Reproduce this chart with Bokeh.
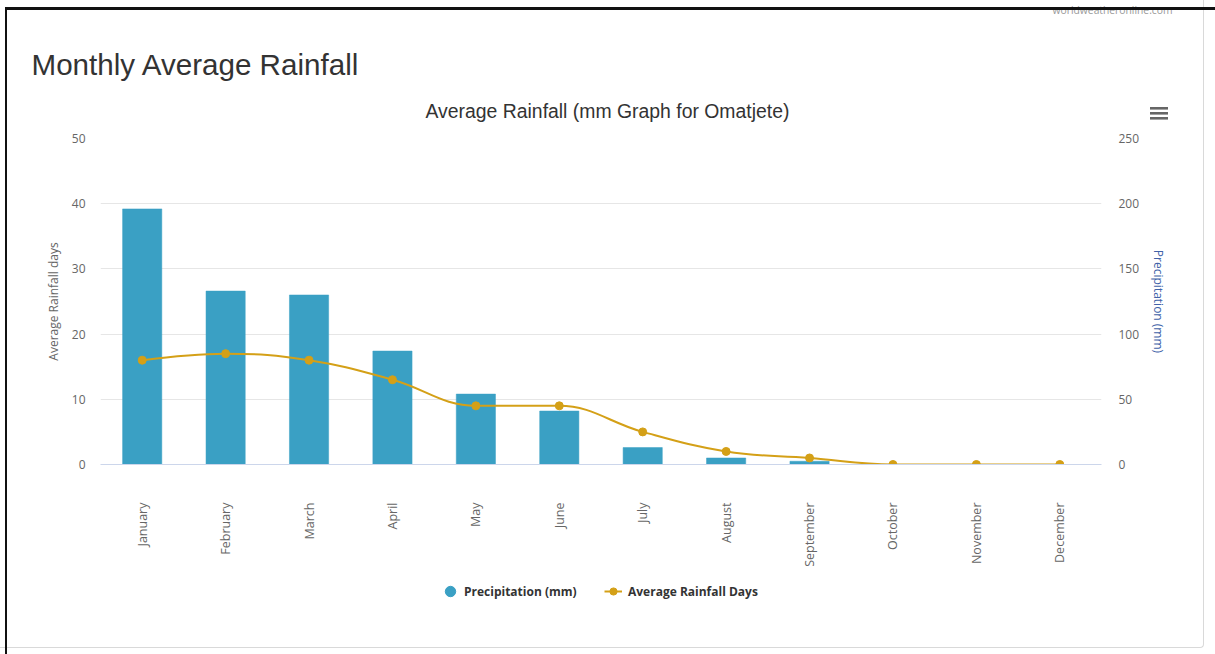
import numpy as np
from bokeh.plotting import figure
from bokeh.layouts import column
from bokeh.models import (Range1d, LinearAxis, FixedTicker, Title, InlineStyleSheet,
                          Legend, LegendItem, ColumnDataSource, Grid)
from bokeh.embed import file_html
from bokeh.resources import INLINE

# ---------------- data ----------------
months = ["January", "February", "March", "April", "May", "June", "July",
          "August", "September", "October", "November", "December"]
precip_mm = [196, 133, 130, 87, 54, 41, 13, 5, 2.5, 0, 0, 0]
rain_days = [16, 17, 16, 13, 9, 9, 5, 2, 1, 0, 0, 0]
days_ticks = [0, 10, 20, 30, 40, 50]
precip_ticks = [0, 50, 100, 150, 200, 250]

page_title = "Monthly Average Rainfall"
chart_title = "Average Rainfall (mm Graph for Omatjete)"
watermark = "worldweatheronline.com"
legend_labels = ["Precipitation (mm)", "Average Rainfall Days"]

# ---------------- layout constants (page px) ----------------
W, H = 1215, 654
HEAD_H = 20                            # thin strip holding the watermark
FL, FR, FT, FB = 100, 1101, 138, 464   # chart frame edges on the page
LEG_TOP = 572                          # legend strip starts here
BAR = "#3aa0c4"
LINE = "#d4a017"
FONT = "Open Sans"

css = """
:host::before {
  content: ""; position: absolute; left: 4.5px; top: 6.5px; width: 1211px; height: 648px;
  border-top: 3px solid #111; border-left: 2.7px solid #111;
  pointer-events: none; z-index: 20;
}
:host::after {
  content: ""; position: absolute; left: 0; top: 0; width: 1204px; height: 648px;
  box-sizing: border-box; border-right: 1px solid #d9d9d9; border-bottom: 1px solid #d9d9d9;
  border-bottom-right-radius: 4px; pointer-events: none; z-index: 19;
  background:
    linear-gradient(#666, #666) 1150px 107px / 18px 2.6px no-repeat,
    linear-gradient(#666, #666) 1150px 112px / 18px 2.6px no-repeat,
    linear-gradient(#666, #666) 1150px 117px / 18px 2.6px no-repeat;
}
"""


def blank_figure(height, top_border=0):
    f = figure(width=W, height=height, output_backend="svg", toolbar_location=None,
               x_range=Range1d(0, W), y_range=Range1d(0, height),
               x_axis_type=None, y_axis_type=None,
               min_border_left=0, min_border_right=0,
               min_border_top=top_border, min_border_bottom=0)
    f.title = None
    f.outline_line_color = None
    f.background_fill_color = "white"
    f.border_fill_color = "white"
    f.xgrid.visible = False
    f.ygrid.visible = False
    return f


# ---------------- watermark strip ----------------
head = blank_figure(HEAD_H, top_border=15)
head.add_layout(Title(text=watermark, align="right", offset=-71, standoff=0,
                      text_font=FONT, text_font_size="10.3px",
                      text_font_style="normal", text_color="#999999"), "above")

# ---------------- main chart ----------------
idx = list(range(len(months)))

p = figure(frame_width=FR - FL, frame_height=FB - FT,
           output_backend="svg", toolbar_location=None,
           x_range=Range1d(-0.5, len(months) - 0.5),
           y_range=Range1d(days_ticks[0], days_ticks[-1]),
           x_axis_type=None, y_axis_type=None,
           min_border_left=FL, min_border_right=W - FR,
           min_border_top=FT - HEAD_H, min_border_bottom=LEG_TOP - FB)
p.title = None
p.extra_y_ranges = {"precip": Range1d(precip_ticks[0], precip_ticks[-1])}
p.outline_line_color = None
p.background_fill_color = "white"
p.border_fill_color = "white"

p.add_layout(Grid(dimension=1, ticker=FixedTicker(ticks=days_ticks),
                  grid_line_color="#e6e6e6", grid_line_width=1))

xax = LinearAxis(ticker=FixedTicker(ticks=idx),
                 major_label_overrides={i: m for i, m in zip(idx, months)},
                 major_label_orientation=np.pi / 2,
                 axis_line_color="#ccd6eb", axis_line_width=1,
                 major_tick_line_color=None, minor_tick_line_color=None,
                 major_tick_in=0, major_tick_out=0,
                 major_label_standoff=38,
                 major_label_text_font=FONT, major_label_text_font_size="12.5px",
                 major_label_text_color="#666666")
p.add_layout(xax, "below")

lax = LinearAxis(ticker=FixedTicker(ticks=days_ticks),
                 axis_label="Average Rainfall days",
                 axis_line_color=None, major_tick_line_color=None, minor_tick_line_color=None,
                 major_tick_in=0, major_tick_out=0, major_label_standoff=15,
                 major_label_text_font=FONT, major_label_text_font_size="12px",
                 major_label_text_color="#666666",
                 axis_label_text_font=FONT, axis_label_text_font_size="12px",
                 axis_label_text_font_style="normal", axis_label_text_color="#666666",
                 axis_label_standoff=7)
p.add_layout(lax, "left")

rax = LinearAxis(y_range_name="precip", ticker=FixedTicker(ticks=precip_ticks),
                 axis_label="Precipitation (mm)",
                 axis_line_color=None, major_tick_line_color=None, minor_tick_line_color=None,
                 major_tick_in=0, major_tick_out=0, major_label_standoff=17,
                 major_label_text_font=FONT, major_label_text_font_size="12px",
                 major_label_text_color="#666666",
                 axis_label_text_font=FONT, axis_label_text_font_size="12px",
                 axis_label_text_font_style="normal", axis_label_text_color="#4062a8",
                 axis_label_standoff=8)
p.add_layout(rax, "right")

# titles above the chart frame (first added = nearest the frame)
p.add_layout(Title(text=chart_title, align="left", offset=325, standoff=34,
                   text_font="Liberation Sans", text_font_size="19.4px",
                   text_font_style="normal", text_color="#333333"), "above")
p.add_layout(Title(text=page_title, align="left", offset=-69, standoff=0,
                   text_font="Liberation Sans", text_font_size="29.6px",
                   text_font_style="normal", text_color="#333333"), "above")

p.vbar(x=idx, top=precip_mm, width=0.47, bottom=0, y_range_name="precip",
       fill_color=BAR, line_color=BAR, line_width=0.5)


def spline_controls(xs, ys, smoothing=1.5):
    """Highcharts-style spline control points computed from the data points."""
    n = len(xs)
    ctrl = [None] * n
    d = smoothing + 1
    for i in range(1, n - 1):
        x, y = xs[i], ys[i]
        lx, ly = xs[i - 1], ys[i - 1]
        nx, ny = xs[i + 1], ys[i + 1]
        lcx = (smoothing * x + lx) / d
        lcy = (smoothing * y + ly) / d
        rcx = (smoothing * x + nx) / d
        rcy = (smoothing * y + ny) / d
        corr = 0.0
        if rcx != lcx:
            corr = (rcy - lcy) * (rcx - x) / (rcx - lcx) + y - rcy
        lcy += corr
        rcy += corr
        if lcy > ly and lcy > y:
            lcy = max(ly, y)
            rcy = 2 * y - lcy
        elif lcy < ly and lcy < y:
            lcy = min(ly, y)
            rcy = 2 * y - lcy
        if rcy > ny and rcy > y:
            rcy = max(ny, y)
            lcy = 2 * y - rcy
        elif rcy < ny and rcy < y:
            rcy = min(ny, y)
            lcy = 2 * y - rcy
        ctrl[i] = (lcx, lcy, rcx, rcy)
    return ctrl


xs = [float(i) for i in idx]
ys = [float(v) for v in rain_days]
ctrl = spline_controls(xs, ys)
seg = dict(x0=[], y0=[], x1=[], y1=[], cx0=[], cy0=[], cx1=[], cy1=[])
for i in range(1, len(xs)):
    a, b = ctrl[i - 1], ctrl[i]
    seg["x0"].append(xs[i - 1]); seg["y0"].append(ys[i - 1])
    seg["x1"].append(xs[i]); seg["y1"].append(ys[i])
    seg["cx0"].append(a[2] if a else xs[i - 1]); seg["cy0"].append(a[3] if a else ys[i - 1])
    seg["cx1"].append(b[0] if b else xs[i]); seg["cy1"].append(b[1] if b else ys[i])
p.bezier(x0="x0", y0="y0", x1="x1", y1="y1", cx0="cx0", cy0="cy0", cx1="cx1", cy1="cy1",
         source=ColumnDataSource(seg), line_color=LINE, line_width=2)
p.scatter(x=idx, y=rain_days, size=8, marker="circle", fill_color=LINE, line_color=LINE)

# ---------------- legend strip (frame left edge aligned with the chart's) ----------------
LEG_H = H - LEG_TOP
foot = blank_figure(LEG_H)
# legend proxies: one point each, kept outside the visible range
leg_bar = foot.scatter(x=[-100], y=[-100], marker="circle", fill_color=BAR, line_color=BAR)
leg_line = foot.line(x=[-100, -90], y=[-100, -100], line_color=LINE, line_width=2)
leg_pt = foot.scatter(x=[-100], y=[-100], marker="circle", fill_color=LINE, line_color=LINE)

common = dict(padding=0, margin=0, border_line_color=None, background_fill_alpha=0,
              label_text_font=FONT, label_text_font_size="12px",
              label_text_font_style="bold", label_text_color="#333333")
lg1 = Legend(items=[LegendItem(label=legend_labels[0], renderers=[leg_bar])],
             location=(437 - FL, LEG_H - (606 - LEG_TOP)), glyph_width=26, glyph_height=30,
             label_standoff=1, **common)
lg2 = Legend(items=[LegendItem(label=legend_labels[1], renderers=[leg_line, leg_pt])],
             location=(604 - FL, LEG_H - (601 - LEG_TOP)), glyph_width=18, glyph_height=20,
             label_standoff=6, **common)
foot.add_layout(lg1)
foot.add_layout(lg2)

page = column(head, p, foot, spacing=0, stylesheets=[InlineStyleSheet(css=css)])

open("out.html", "w").write(file_html(page, INLINE))
